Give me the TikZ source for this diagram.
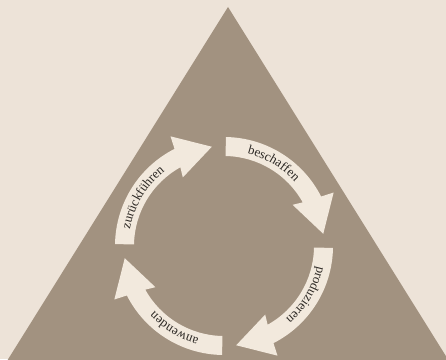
\documentclass[tikz,border=0pt]{standalone}
\usepackage{fontspec}
\setmainfont{Liberation Serif}
\usetikzlibrary{decorations.text}
\definecolor{paper}{RGB}{237,227,216}
\definecolor{earth}{RGB}{162,146,128}
\definecolor{band}{RGB}{242,233,221}
\definecolor{ink}{RGB}{44,40,36}

\begin{document}
\begin{tikzpicture}[x=1pt,y=1pt,
  ring/.style={fill=band,draw=none},
  ringtext/.style={decorate,decoration={text along path,text align=center,
    text={|\fontsize{13}{15}\selectfont\color{ink}|#1}}}]
\useasboundingbox (0,0) rectangle (446,359);
\fill[paper] (0,0) rectangle (446,359);
\begin{scope}
\clip (0,0) rectangle (446,359);
\fill[earth] (228,352) -- (2,-10) -- (454,-10) -- cycle;
\end{scope}
\coordinate (c) at (224,113);
\begin{scope}[shift={(c)}]
\foreach \a/\word in {89/beschaffen,-1/produzieren,-91/anwenden,179/zurückführen}{
 \fill[ring] (\a:109pt) arc[start angle=\a,end angle=\a-62,radius=109pt]
  -- (\a-63:122pt) -- (\a-82:100pt) -- (\a-58:80pt) -- (\a-60:90pt)
  arc[start angle=\a-60,end angle=\a,radius=90pt] -- cycle;
 \path[ringtext=\word] (\a-2:95.5pt) arc[start angle=\a-2,end angle=\a-58,radius=95.5pt];
}
\end{scope}
\end{tikzpicture}
\end{document}
